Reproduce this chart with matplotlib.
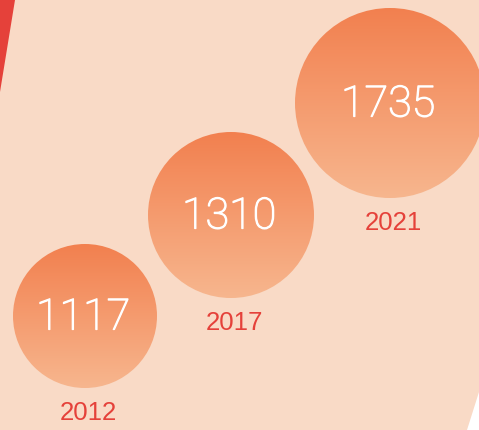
import matplotlib
matplotlib.use("Agg")
import matplotlib.pyplot as plt
import matplotlib.patheffects as pe
import numpy as np
from matplotlib.colors import LinearSegmentedColormap
from matplotlib.patches import Circle, Polygon

# data
years = ["2012", "2017", "2021"]
values = [1117, 1310, 1735]

# layout (pixel space)
cx = [85, 231, 390]
cy = [316, 215, 103]
radius = [72, 83, 95]

bg = "#F9DAC6"
red = "#E5413A"
grad = LinearSegmentedColormap.from_list("g", ["#F2804F", "#F7B68E"])

fig = plt.figure(figsize=(4.79, 4.30), dpi=100)
fig.patch.set_facecolor(bg)
ax = fig.add_axes([0, 0, 1, 1])
ax.set_xlim(0, 479)
ax.set_ylim(430, 0)
ax.set_facecolor(bg)
ax.axis("off")

# decorative stripes
ax.add_patch(Polygon([(0, 0), (15, 0), (0, 92)], closed=True, color=red, lw=0))
ax.add_patch(Polygon([(479, 392), (479, 430), (467, 430)], closed=True, color="white", lw=0))

g = np.linspace(0, 1, 256).reshape(-1, 1)
thick = [pe.withStroke(linewidth=0.9, foreground="white")]
for i in range(len(values)):
    x, y, r = cx[i], cy[i], radius[i]
    im = ax.imshow(g, cmap=grad, aspect="auto",
                   extent=(x - r, x + r, y + r, y - r), zorder=2)
    c = Circle((x, y), r, transform=ax.transData, fc="none", ec="none")
    ax.add_patch(c)
    im.set_clip_path(c)
    ax.text(x - 2, y + 2, str(values[i]), color="white", fontsize=31,
            fontfamily="Roboto", fontweight="light", path_effects=thick,
            ha="center", va="center", zorder=3)
    ax.text(x + 3, y + r + 25, years[i], color=red, fontsize=18.5,
            fontfamily="Liberation Sans", ha="center", va="center", zorder=3)

ax.set_xlim(0, 479)
ax.set_ylim(430, 0)
fig.savefig("out.png", dpi=100, facecolor=bg)
